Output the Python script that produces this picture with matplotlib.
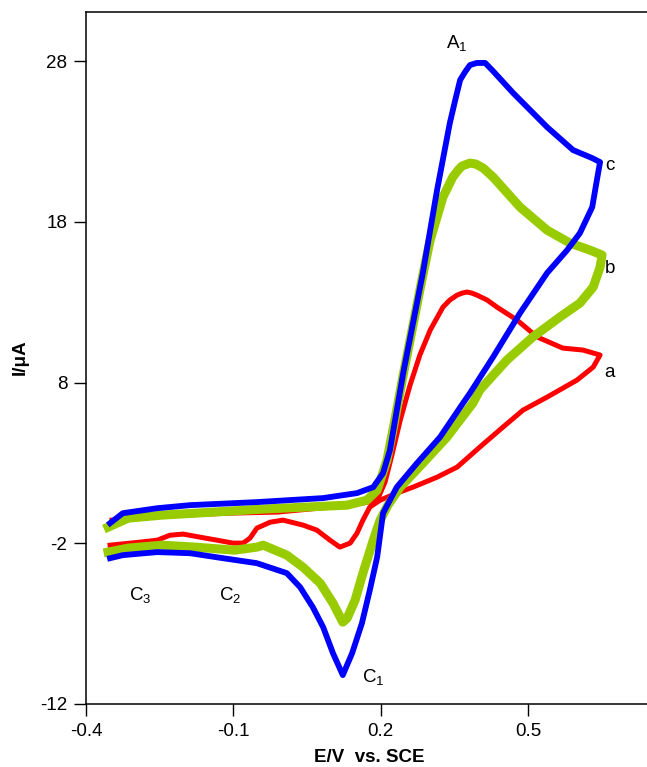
import matplotlib
matplotlib.use("Agg")
import matplotlib.pyplot as plt

plt.rcParams['font.family'] = ['Liberation Sans', 'DejaVu Sans']
plt.rcParams['mathtext.fontset'] = 'custom'
plt.rcParams['mathtext.rm'] = 'Liberation Sans'
plt.rcParams['mathtext.default'] = 'regular'
plt.rcParams['axes.unicode_minus'] = False

# Cyclic voltammograms: potential (V vs. SCE) and current (uA)
E_a = [-0.347, -0.245, -0.111, -0.009, 0.097, 0.164, 0.193, 0.209, 0.223, 0.240,
       0.260, 0.280, 0.301, 0.327, 0.341, 0.356, 0.366, 0.376, 0.386, 0.396,
       0.417, 0.437, 0.478, 0.519,
       0.571, 0.612, 0.647, 0.633, 0.600, 0.539, 0.490, 0.449, 0.402, 0.356,
       0.315, 0.266, 0.233, 0.199, 0.178, 0.164, 0.152, 0.138, 0.117, 0.097,
       0.070, 0.042, 0.001, -0.025, -0.052, -0.066, -0.080, -0.101, -0.133, -0.168,
       -0.202, -0.229, -0.255, -0.290, -0.351]
I_a = [-0.56, -0.31, -0.13, -0.06, 0.25, 0.50, 0.68, 1.80, 3.48, 5.66,
       7.84, 9.71, 11.26, 12.69, 13.13, 13.44, 13.56, 13.63, 13.56, 13.44,
       13.13, 12.69, 11.88, 10.83,
       10.14, 10.02, 9.71, 8.96, 8.15, 7.09, 6.28, 5.22, 3.98, 2.74,
       2.11, 1.49, 1.12, 0.68, 0.25, -0.56, -1.37, -1.99, -2.24, -1.81,
       -1.18, -0.87, -0.56, -0.69, -1.06, -1.68, -1.99, -1.99, -1.81, -1.62,
       -1.43, -1.50, -1.81, -1.93, -2.12]

E_b = [-0.355, -0.314, -0.245, -0.178, -0.042, 0.132, 0.172, 0.193, 0.213, 0.229,
       0.246, 0.266, 0.286, 0.301, 0.327, 0.347, 0.358, 0.366, 0.382, 0.394,
       0.409, 0.429,
       0.484, 0.539, 0.586, 0.626, 0.651, 0.647, 0.633, 0.606, 0.565, 0.510,
       0.457, 0.402, 0.388, 0.335, 0.286, 0.240, 0.215, 0.199, 0.185, 0.164,
       0.148, 0.132, 0.123, 0.103, 0.077, 0.042, 0.009, -0.039, -0.052, -0.097,
       -0.178, -0.245, -0.314, -0.355]
I_b = [-1.00, -0.44, -0.25, -0.13, 0.12, 0.37, 0.68, 1.30, 3.17, 5.66,
       8.46, 11.57, 14.68, 16.86, 19.54, 20.78, 21.22, 21.47, 21.65, 21.59,
       21.34, 20.78,
       18.91, 17.48, 16.67, 16.24, 15.93, 15.18, 13.94, 12.94, 12.07, 10.83,
       9.39, 7.53, 6.72, 4.60, 2.98, 1.49, 0.37, -0.56, -1.81, -3.86,
       -5.54, -6.66, -6.91, -5.73, -4.48, -3.49, -2.74, -2.12, -2.24, -2.43,
       -2.24, -2.12, -2.30, -2.55]

E_c = [-0.351, -0.325, -0.255, -0.188, -0.052, 0.083, 0.152, 0.185, 0.205, 0.219,
       0.246, 0.286, 0.315, 0.341, 0.352, 0.362, 0.372, 0.382, 0.396, 0.413,
       0.427, 0.470, 0.539,
       0.592, 0.631, 0.647, 0.643, 0.631, 0.606, 0.580, 0.539, 0.484, 0.429,
       0.382, 0.368, 0.321, 0.274, 0.233, 0.205, 0.193, 0.178, 0.162, 0.142,
       0.123, 0.103, 0.083, 0.062, 0.036, 0.009, -0.052, -0.121, -0.188, -0.255,
       -0.325, -0.351]
I_c = [-0.75, -0.13, 0.18, 0.37, 0.56, 0.81, 1.12, 1.49, 2.36, 3.79,
       8.58, 14.81, 19.97, 24.14, 25.57, 26.82, 27.32, 27.75, 27.88, 27.88,
       27.44, 26.01, 23.89,
       22.46, 21.96, 21.71, 21.03, 18.91, 17.30, 16.24, 14.81, 12.32, 9.58,
       7.34, 6.72, 4.60, 2.98, 1.49, -0.13, -2.86, -4.92, -6.97, -8.84,
       -10.20, -8.84, -7.22, -5.98, -4.73, -3.86, -3.24, -2.93, -2.62, -2.55,
       -2.74, -2.93]

x_ticks = [-0.4, -0.1, 0.2, 0.5]
x_tick_labels = ['-0.4', '-0.1', '0.2', '0.5']
y_ticks = [-12, -2, 8, 18, 28]

W, H = 647, 767
fig = plt.figure(figsize=(W / 100, H / 100), dpi=100)
left, right, top, bottom = 86, 660, 12, 704
ax = fig.add_axes([left / W, 1 - bottom / H, (right - left) / W, (bottom - top) / H])

ax.plot(E_a, I_a, color='#ff0000', lw=3.6, solid_joinstyle='round', zorder=3)
ax.plot(E_b, I_b, color='#99cc00', lw=6.5, solid_joinstyle='round', zorder=4)
ax.plot(E_c, I_c, color='#0000ff', lw=4.2, solid_joinstyle='round', zorder=5)

ax.set_xlim(-0.4, -0.4 + (right - left) / 491.0)
ax.set_ylim(-12, 28 + (61 - top) / 16.07)

ax.set_xticks(x_ticks)
ax.set_xticklabels(x_tick_labels)
ax.set_yticks(y_ticks)
ax.tick_params(direction='out', length=8.5, width=1.0, pad=5, labelsize=13.5, colors='black')

for side in ['left', 'bottom', 'top']:
    ax.spines[side].set_linewidth(1.1)
ax.spines['right'].set_visible(False)

# Peak and curve labels
fs = 13.5
ax.text(0.356, 29.1, r'A$_1$', fontsize=fs, ha='center', va='center')
ax.text(0.185, -10.35, r'C$_1$', fontsize=fs, ha='center', va='center')
ax.text(-0.107, -5.2, r'C$_2$', fontsize=fs, ha='center', va='center')
ax.text(-0.290, -5.2, r'C$_3$', fontsize=fs, ha='center', va='center')
ax.text(0.667, 8.6, 'a', fontsize=fs, ha='center', va='center')
ax.text(0.667, 15.1, 'b', fontsize=fs, ha='center', va='center')
ax.text(0.667, 21.5, 'c', fontsize=fs, ha='center', va='center')

fig.text(369 / W, 1 - 757 / H, 'E/V  vs. SCE', fontsize=13.5, fontweight='bold',
         ha='center', va='center')
fig.text(20 / W, 1 - 357 / H, 'I/\u03bcA', fontsize=13.5, fontweight='bold',
         rotation=90, ha='center', va='center')

fig.savefig('out.png', dpi=100)
